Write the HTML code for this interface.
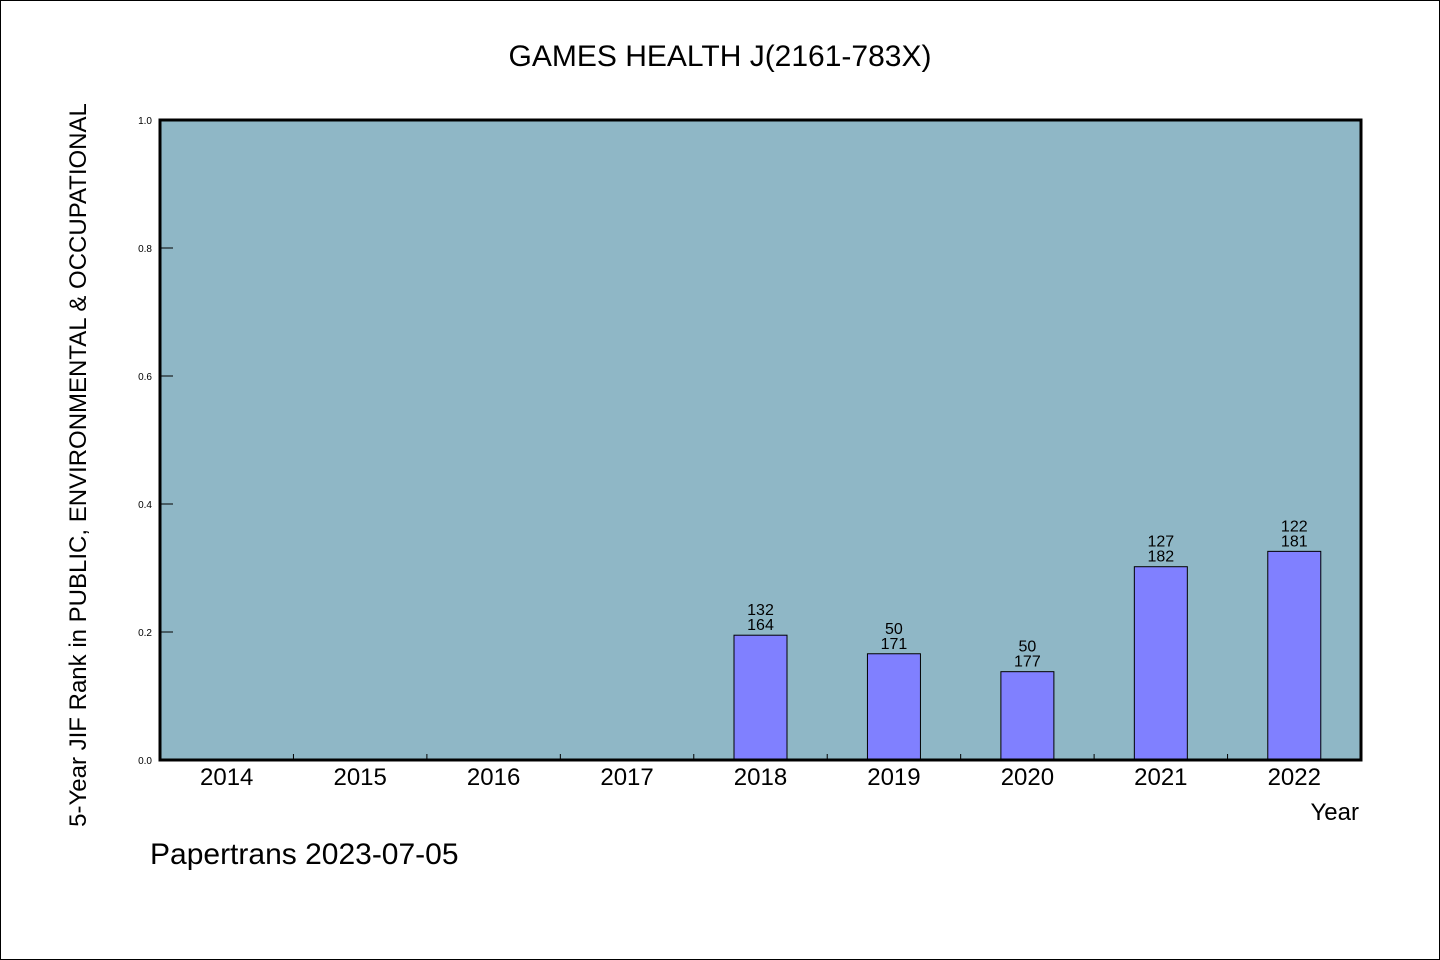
<!DOCTYPE html>
<html><head><meta charset="utf-8"><style>
body{margin:0;background:#fff;}
svg{display:block;font-family:"WenQuanYi Zen Hei","Liberation Sans",sans-serif;}
</style></head><body>
<svg id="chart" width="1440" height="960" xmlns="http://www.w3.org/2000/svg">
<rect x="0.5" y="0.5" width="1439" height="959" fill="#fff" stroke="#000"/>
<text x="720" y="66" font-size="30" text-anchor="middle">GAMES HEALTH J(2161-783X)</text>
<rect x="160" y="120" width="1201" height="640" fill="#8fb7c6"/>
<g id="marks"></g>
<rect x="160" y="120" width="1201" height="640" fill="none" stroke="#000" stroke-width="3"/>
<text transform="translate(86,465) rotate(-90)" font-size="24" text-anchor="middle">5-Year JIF Rank in PUBLIC, ENVIRONMENTAL &amp; OCCUPATIONAL</text>
<text x="1359" y="820" font-size="24" text-anchor="end">Year</text>
<text x="150" y="864" font-size="30">Papertrans 2023-07-05</text>
</svg>
<script>
const categories=["2014","2015","2016","2017","2018","2019","2020","2021","2022"];
const values=[null,null,null,null,0.195,0.166,0.138,0.302,0.326];
const rankTop=[null,null,null,null,"132","50","50","127","122"];
const rankBottom=[null,null,null,null,"164","171","177","182","181"];
const yTicks=[0,0.2,0.4,0.6,0.8,1.0];
const yTickLabels=["0.0","0.2","0.4","0.6","0.8","1.0"];
const NS="http://www.w3.org/2000/svg";
const X0=160,W=1201,Y0=760,H=640;
const band=W/categories.length;
const xc=i=>X0+band*(i+0.5);
const y=v=>Y0-v*H;
const g=document.getElementById('marks');
function mk(t,a){const e=document.createElementNS(NS,t);for(const k in a)e.setAttribute(k,a[k]);g.appendChild(e);return e;}
yTicks.forEach((v,i)=>{
  const l=mk('line',{x1:X0,x2:X0+13,y1:y(v),y2:y(v),stroke:'#000','stroke-width':1});
  
  
  const t=mk('text',{x:152,y:y(v)+4,'font-size':10,'text-anchor':'end'});
  t.textContent=yTickLabels[i];
  
  
});
categories.forEach((c,i)=>{
  if(i>0){const l=mk('line',{x1:X0+band*i,x2:X0+band*i,y1:Y0,y2:Y0-6,stroke:'#000','stroke-width':1});
  
  }
  const t=mk('text',{x:xc(i),y:785,'font-size':24,'text-anchor':'middle'});
  t.textContent=c;
  
  
  const v=values[i];
  if(v!=null){
    const bw=53;
    const r=mk('rect',{x:xc(i)-bw/2,y:y(v),width:bw,height:Y0-y(v),fill:'#8080ff',stroke:'#000','stroke-width':1});
    
    
    const t1=mk('text',{x:xc(i),y:y(v)-20,'font-size':16,'text-anchor':'middle'});
    t1.textContent=rankTop[i];
    
    
    const t2=mk('text',{x:xc(i),y:y(v)-5,'font-size':16,'text-anchor':'middle'});
    t2.textContent=rankBottom[i];
    
    
  }
});
</script>
</body></html>
